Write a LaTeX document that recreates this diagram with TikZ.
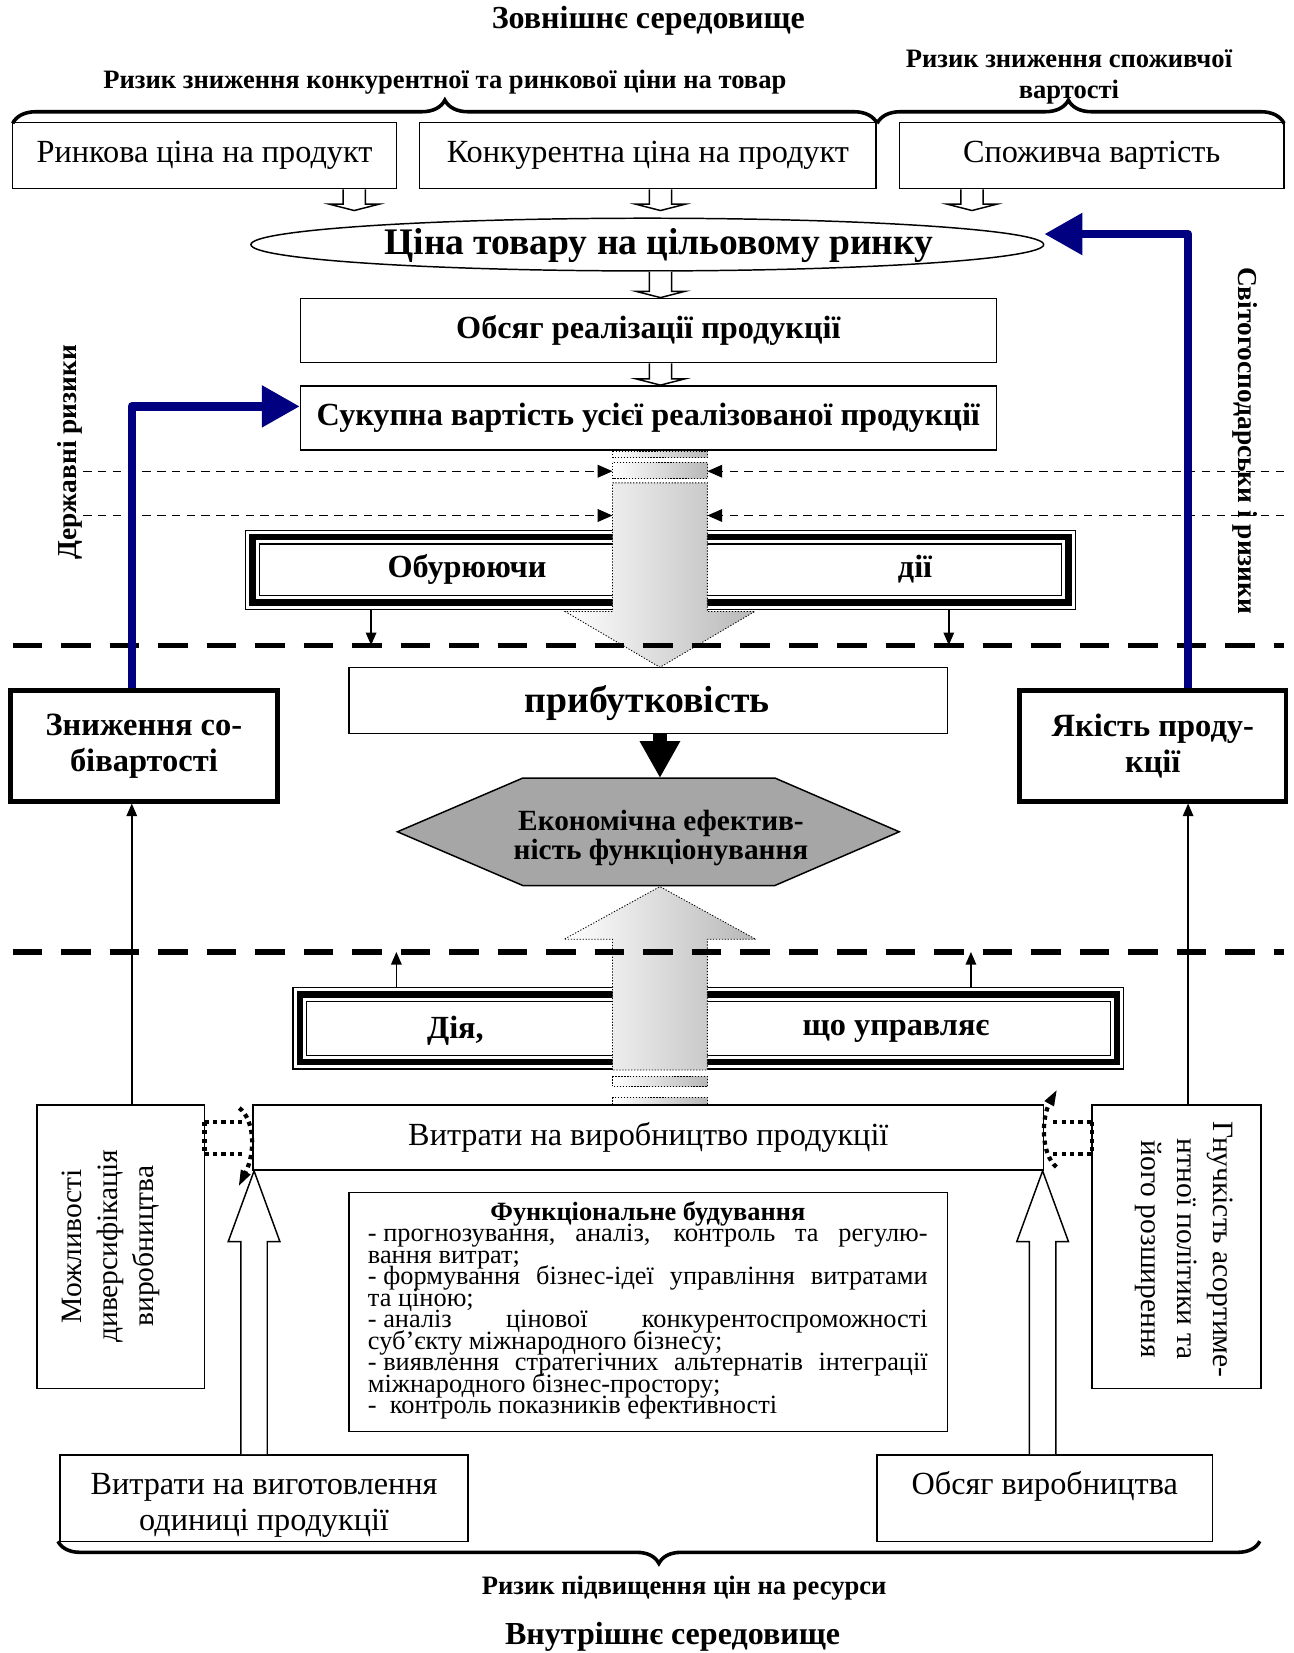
\documentclass[tikz,border=0pt]{standalone}
\usepackage{fontspec}
\setmainfont{Liberation Serif}
\usetikzlibrary{arrows.meta,shapes.geometric,decorations.pathreplacing,calc}
\definecolor{navyb}{RGB}{0,0,128}
\newcommand\hdown[2]{\draw[hollow] ($(#1)+(-10.5,0)$) -- ($(#2)+(-10.5,-6)$) -- ($(#2)+(-23.5,-6)$) -- (#2) -- ($(#2)+(23.5,-6)$) -- ($(#2)+(10.5,-6)$) -- ($(#1)+(10.5,0)$);}
\newcommand\hup[2]{\draw[hollow] ($(#1)+(-12.5,0)$) -- ($(#2)+(-12.5,67)$) -- ($(#2)+(-24.5,67)$) -- (#2) -- ($(#2)+(24.5,67)$) -- ($(#2)+(12.5,67)$) -- ($(#1)+(12.5,0)$);}
\newcommand\tripleframe[1]{%
  \draw[line width=3pt] ([shift={(3.5pt,-3.5pt)}]#1.north west) rectangle ([shift={(-3.5pt,3.5pt)}]#1.south east);
  \draw[line width=0.6pt] ([shift={(6.75pt,-6.75pt)}]#1.north west) rectangle ([shift={(-6.75pt,6.75pt)}]#1.south east);}
\begin{document}
\begin{tikzpicture}[x=0.5pt,y=-0.5pt,
  box/.style={draw=black, line width=0.7pt, fill=white, inner sep=0pt, align=center},
  thickbox/.style={draw=black, line width=2.2pt, fill=white, inner sep=0pt, align=center},
  reg/.style={font=\fontsize{15.3}{17.5}\selectfont},
  bld/.style={font=\fontsize{15.3}{17.5}\selectfont\bfseries},
  lbl/.style={inner sep=0pt, align=center},
  thindash/.style={line width=0.6pt, dash pattern=on 4pt off 3pt},
  thickdash/.style={line width=2.5pt, dash pattern=on 14pt off 9pt},
  navyarrow/.style={draw=navyb, line width=4pt, line join=round, -{Triangle[length=18pt,width=19pt,fill=navyb]}},
  smallarr/.style={line width=0.7pt, -{Triangle[length=6pt,width=5pt]}},
  dashtip/.style={thindash, -{Triangle[length=7pt,width=6pt]}},
  bigarrow/.style={shade, left color=white, right color=black!28, draw=black, line width=0.4pt, dash pattern=on 0.6pt off 0.8pt},
  hollow/.style={draw=black, line width=0.7pt, fill=white},
  dotcurve/.style={line width=2pt, dash pattern=on 2pt off 2pt},
  bracestyle/.style={line width=1.7pt, decorate},
]
\fill[white] (0,0) rectangle (1227,1568);
\useasboundingbox (0,0) rectangle (1227,1568);

% ---------- top texts and braces
\node[lbl, font=\fontsize{15.2}{17}\selectfont\bfseries] (titleTop) at (615,20) {Зовнішнє середовище};
\node[lbl, font=\fontsize{12.6}{15}\selectfont\bfseries] (riskA) at (422,78) {Ризик зниження конкурентної та ринкової ціни на товар};
\node[lbl, font=\fontsize{12.6}{15}\selectfont\bfseries] (riskB) at (1014,73) {Ризик зниження споживчої\\вартості};

% ---------- top row
\node[box, reg, minimum width=182pt, minimum height=31.5pt] (b1) at (194,147.5) {Ринкова ціна на продукт};
\node[box, reg, minimum width=216.5pt, minimum height=31.5pt] (b2) at (614.5,147.5) {Конкурентна ціна на продукт};
\node[box, reg, minimum width=182.5pt, minimum height=31.5pt] (b3) at (1035.5,147.5) {Споживча вартість};

\draw[bracestyle, decoration={brace, amplitude=11pt}] (12,117) -- (832,117);
\draw[bracestyle, decoration={brace, amplitude=11pt, aspect=0.47}] (832,117) -- (1218,117);

% ---------- ellipse and boxes
\node[draw, line width=0.7pt, ellipse, fill=white, minimum width=376pt, minimum height=25pt, inner sep=0pt] (ell) at (614,232) {};
\node[lbl, font=\fontsize{17.8}{19}\selectfont\bfseries] (ellt) at (625,233) {Ціна товару на цільовому ринку};
\node[box, bld, minimum width=330pt, minimum height=30.5pt] (obs) at (615,313.5) {Обсяг реалізації продукції};
\node[box, bld, minimum width=330pt, minimum height=30.5pt] (suk) at (615,396.5) {Сукупна вартість усієї реалізованої продукції};

\coordinate (s1) at ($(b1.south)+(142,0)$); \coordinate (t1) at ($(s1)+(0,20)$);
\coordinate (s2) at ($(b2.south)+(12,0)$);  \coordinate (t2) at ($(s2)+(0,20)$);
\coordinate (s3) at ($(b3.south)+(-113.5,0)$); \coordinate (t3) at ($(s3)+(0,20)$);
\coordinate (s4) at ($(ell.south)+(12.5,0)$); \coordinate (t4) at (s4 |- obs.north);
\coordinate (s5) at ($(obs.south)+(11.5,0)$); \coordinate (t5) at (s5 |- suk.north);
\hdown{s1}{t1} \hdown{s2}{t2} \hdown{s3}{t3} \hdown{s4}{t4} \hdown{s5}{t5}

% ---------- disturbing actions box
\node[draw, line width=0.6pt, fill=white, minimum width=393.5pt, minimum height=37.5pt, inner sep=0pt] (ob) at (626.5,540.5) {};
\tripleframe{ob}
\node[lbl, bld] (obL) at (443,540) {Обурюючи};
\node[lbl, bld] (obR) at (868,540) {дії};

% ---------- managing action box
\node[draw, line width=0.6pt, fill=white, minimum width=394pt, minimum height=38.5pt, inner sep=0pt] (dia) at (672,975.5) {};
\tripleframe{dia}
\node[lbl, bld] (diaL) at (432,978) {Дія,};
\node[lbl, bld] (diaR) at (850,978) {що управляє};

% ---------- big gradient arrows
\path[bigarrow] (581,428) rectangle (671,434);
\path[bigarrow] (581,439) rectangle (671,454);
\path[bigarrow] (581,458) -- (671,458) -- (671,580) -- (716,580) -- (626,633) -- (536,580) -- (581,580) -- cycle;
\path[bigarrow] (581,1015) -- (581,891) -- (535,891) -- (626,841) -- (717,891) -- (671,891) -- (671,1015) -- cycle;
\path[bigarrow] (581,1021) rectangle (671,1031);
\path[bigarrow] (581,1041) rectangle (671,1048);

% ---------- thin dashed arrows
\coordinate (dl1) at (79,447); \coordinate (dr1) at (1218,447);
\coordinate (dl2) at (79,489); \coordinate (dr2) at (1218,489);
\draw[dashtip] (dl1) -- (581,447);
\draw[dashtip] (dr1) -- (671,447);
\draw[dashtip] (dl2) -- (581,489);
\draw[dashtip] (dr2) -- (671,489);

% ---------- profitability, hexagon
\node[box, minimum width=284pt, minimum height=31.5pt] (prib) at (615,664.5) {};
\node[lbl, font=\fontsize{17.9}{19}\selectfont\bfseries] (pribt) at (614,667) {прибутковість};
\path[draw=black, line width=0.7pt, fill=black!35] (377,789) -- (496,738) -- (735,738) -- (853,789) -- (735,840) -- (496,840) -- cycle;
\node[lbl, font=\fontsize{13.9}{14}\selectfont\bfseries] (hex) at (627,795) {Економічна ефектив-\\ність функціонування};
\coordinate (hexT) at (626,738);
\draw[line width=7pt, -{Triangle[length=17.5pt,width=18pt]}] (prib.south -| hexT) -- (hexT);

% ---------- side boxes
\node[thickbox, minimum width=126.5pt, minimum height=52.5pt, font=\fontsize{15.4}{17}\selectfont\bfseries] (zn) at (136.5,707.5) {Зниження со-\\бівартості};
\node[thickbox, minimum width=126.5pt, minimum height=52.5pt, font=\fontsize{15.4}{17}\selectfont\bfseries] (jk) at (1093.5,707.5) {Якість проду-\\кції};

% ---------- thick dashed lines and small arrows
\coordinate (dA) at (352,612); \coordinate (dB) at (900,612);
\coordinate (dC) at (376,903); \coordinate (dD) at (921,903);
\draw[smallarr] (ob.south -| dA) -- (dA);
\draw[smallarr] (ob.south -| dB) -- (dB);
\draw[smallarr] (dia.north -| dC) -- (dC);
\draw[smallarr] (dia.north -| dD) -- (dD);
\draw[thickdash] (12,612) -- (1218,612);
\draw[thickdash] (12,903) -- (1218,903);

% ---------- vertical risk labels
\node[lbl, rotate=90, font=\fontsize{13}{15}\selectfont\bfseries] (derzh) at (66,429) {Державні ризики};
\node[lbl, rotate=-90, font=\fontsize{13}{15}\selectfont\bfseries] (svit) at (1181,418) {Світогосподарськи і ризики};

% ---------- lower part
\node[box, reg, minimum width=375pt, minimum height=31pt] (vit) at (615,1079) {Витрати на виробництво продукції};
\node[box, minimum width=79.5pt, minimum height=134.5pt] (mozh) at (114.5,1182.5) {};
\node[lbl, rotate=90, font=\fontsize{14}{17}\selectfont] (mozht) at (105,1182) {Можливості\\диверсифікація\\виробництва};
\node[box, minimum width=80pt, minimum height=134.5pt] (gn) at (1116,1182.5) {};
\node[lbl, rotate=-90, font=\fontsize{14}{17}\selectfont] (gnt) at (1123,1185) {Гнучкість асортиме-\\нтної політики та\\його розширення};

\node[box, minimum width=284pt, minimum height=113.5pt] (func) at (615,1244.5) {};
\node[inner sep=0pt, text width=265.5pt, align=justify, anchor=north] (funct) at (614.5,1139)
{\fontsize{12.5}{10.2}\selectfont\lineskiplimit=-50pt\parindent=0pt\parskip=0pt\hyphenpenalty=10000\exhyphenpenalty=10000
{\centering\bfseries Функціональне будування\par}
\mbox{- прогнозування,} аналіз, контроль та регулю-\linebreak вання витрат;\par
\mbox{- формування} бізнес-ідеї управління витратами\linebreak та ціною;\par
\mbox{- аналіз} цінової конкурентоспроможності\linebreak суб’єкту міжнародного бізнесу;\par
\mbox{- виявлення} стратегічних альтернатів інтеграції\linebreak міжнародного бізнес-простору;\par
\mbox{-\ \ контроль} показників ефективності\par};

\node[box, minimum width=193.5pt, minimum height=41pt] (vb) at (250.5,1421) {};
\node[lbl, reg] (vbt) at (250.5,1428) {Витрати на виготовлення\\одиниці продукції};
\node[box, minimum width=159pt, minimum height=41pt] (ov) at (991,1421) {};
\node[lbl, reg] (ovt) at (991,1410) {Обсяг виробництва};

\coordinate (hlx) at (241,0); \coordinate (hrx) at (989,0);
\coordinate (vbTop) at (vb.north -| hlx); \coordinate (vitBL) at (vit.south -| hlx);
\coordinate (ovTop) at (ov.north -| hrx); \coordinate (vitBR) at (vit.south -| hrx);
\hup{vbTop}{vitBL} \hup{ovTop}{vitBR}

% ---------- dotted links
\draw[dotcurve] (194,1064) -- (231,1064);
\draw[dotcurve] (194,1095) -- (231,1095);
\draw[dotcurve] (194,1064) -- (194,1095);
\draw[dotcurve, -{Triangle[length=8pt,width=4.5pt]}] (227,1051) .. controls (241,1062) and (243,1092) .. (226,1126);
\draw[dotcurve] (999,1064) -- (1036,1064);
\draw[dotcurve] (999,1095) -- (1036,1095);
\draw[dotcurve] (1036,1064) -- (1036,1095);
\draw[dotcurve, -{Triangle[length=8pt,width=4.5pt]}] (1002,1107) .. controls (987,1094) and (988,1060) .. (1003,1033);

% ---------- thin arrows from side boxes
\coordinate (lx) at (125,0); \coordinate (rx) at (1127,0);
\draw[smallarr] (mozh.north -| lx) -- (zn.south -| lx);
\draw[smallarr] (gn.north -| rx) -- (jk.south -| rx);

% ---------- navy arrows
\draw[navyarrow] (zn.north -| lx) |- ([yshift=5.5pt]suk.west);
\draw[navyarrow] (jk.north -| rx) |- ([yshift=5pt]ell.east);

% ---------- bottom brace and texts
\draw[bracestyle, decoration={brace, amplitude=10.5pt}] (1195,1462) -- (55,1462);
\node[lbl, font=\fontsize{12.6}{14}\selectfont\bfseries] (riskC) at (649,1506) {Ризик підвищення цін на ресурси};
\node[lbl, font=\fontsize{15.2}{17}\selectfont\bfseries] (titleBot) at (638,1553) {Внутрішнє середовище};
\end{tikzpicture}
\end{document}
